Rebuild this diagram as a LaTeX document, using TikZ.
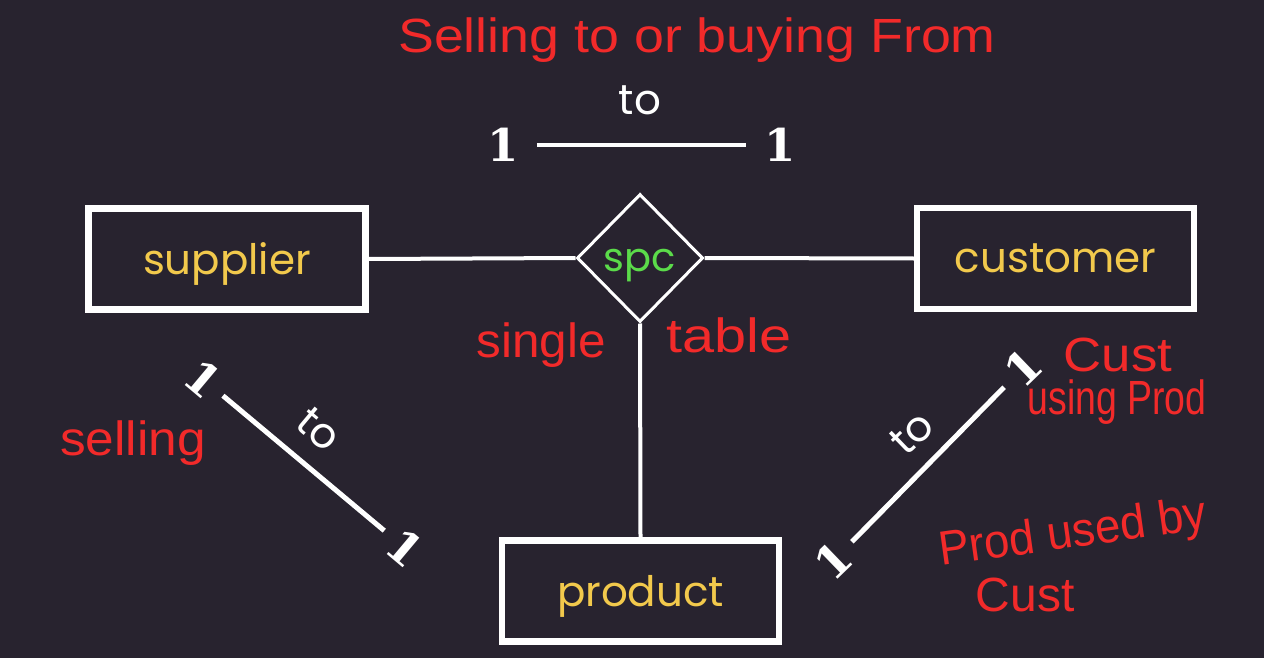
\documentclass[tikz,border=0pt]{standalone}
\usepackage{fontspec}
\newfontfamily\geo{Poppins}
\newfontfamily\hand{Liberation Sans}
\newfontfamily\slab{DejaVu Serif}
\usetikzlibrary{shapes.geometric}
\definecolor{bg}{HTML}{28232F}
\definecolor{lab}{HTML}{F2C94C}
\definecolor{grn}{HTML}{5BDB4A}
\definecolor{ann}{HTML}{F22A2A}
\begin{document}
\begin{tikzpicture}[x=1pt,y=-1pt,
  entity/.style={draw=white,line width=6.5pt,fill=bg,minimum width=277pt,minimum height=101pt,inner sep=0pt,text depth=0pt,text=lab,font=\geo\fontsize{42}{46}\selectfont},
  rel/.style={diamond,draw=white,line width=3pt,fill=bg,minimum width=126pt,minimum height=128pt,inner sep=0pt,text depth=0pt,text=grn,font=\geo\fontsize{40}{44}\selectfont},
  conn/.style={draw=white,line width=4pt},
  card/.style={text=white,inner sep=0pt,font=\slab\bfseries\fontsize{45}{48}\selectfont},
  tolabel/.style={text=white,inner sep=0pt,font=\geo\fontsize{42}{46}\selectfont},
  annot/.style={text=ann,inner sep=0pt,font=\hand\fontsize{48}{52}\selectfont}]
\fill[bg] (0,0) rectangle (1264,658);
\useasboundingbox (0,0) rectangle (1264,658);
% entities and relationship
\node[entity] (sup) at (227,259) {supplier};
\node[entity] (cus) at (1055.5,258.5) {customer};
\node[entity] (pro) at (640.5,591) {product};
\node[rel] (spc) at (640,258) {\raisebox{-5pt}{spc}};
\draw[conn] (sup.east) -- (spc.west);
\draw[conn] (spc.east) -- (cus.west);
\draw[conn] (spc.south) -- (pro.north);
% top cardinality
\node[tolabel] (tto) at (640,100) {to};
\node[card] (t1) at (503,145) {1};
\node[card] (t2) at (780,145) {1};
\draw[conn,line width=3.5pt,shorten <=18pt,shorten >=18pt] (t1) -- (t2);
% left diagonal
\node[card,rotate=-40] (l1) at (203,379) {1};
\node[card,rotate=-40] (l2) at (405,548) {1};
\draw[conn,line width=5pt,shorten <=26pt,shorten >=27pt] (l1.center) -- (l2.center);
\node[tolabel,rotate=-40] (lto) at (319,429) {to};
% right diagonal
\node[card,rotate=44] (r1) at (833,561) {1};
\node[card,rotate=44] (r2) at (1023,368) {1};
\draw[conn,line width=5pt,shorten <=27pt,shorten >=27pt] (r1.center) -- (r2.center);
\node[tolabel,rotate=44] (rto) at (912,433) {to};
% annotations
\node[annot] (n1) at (697,40) {\scalebox{1.12}[1]{Selling to or buying From}};
\node[annot] (n2) at (541,345) {\scalebox{1.03}[1]{single}};
\node[annot] (n3) at (729,335) {\scalebox{1.2}[1]{table}};
\node[annot] (n4) at (133,443) {\scalebox{1.07}[1]{selling}};
\node[annot] (n5) at (1118,355) {\scalebox{1.1}[1]{Cust}};
\node[annot] (n6) at (1117,402) {\scalebox{0.78}[1]{using Prod}};
\node[annot,rotate=8] (n7) at (1073,535) {\scalebox{0.95}[1]{Prod used by}};
\node[annot] (n8) at (1025,595) {\scalebox{1.0}[1]{Cust}};
\end{tikzpicture}
\end{document}
